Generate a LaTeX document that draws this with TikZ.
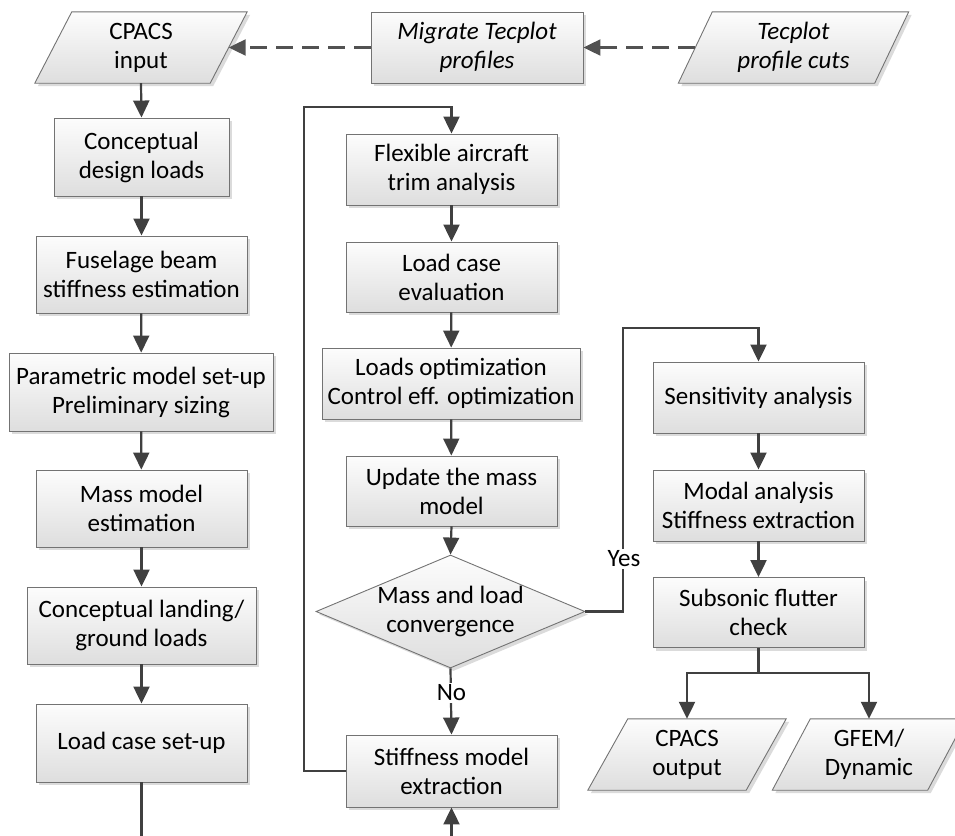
\documentclass[tikz,border=0pt]{standalone}
\usepackage{fontspec}
\setmainfont{Carlito}
\usetikzlibrary{arrows.meta,shadows,shapes.geometric}
\begin{document}
\begin{tikzpicture}[x=1pt,y=-1pt,
  txt/.style={align=center,inner sep=0pt,font=\fontsize{25}{29}\selectfont},
  shade/.style={draw=black!55,line width=0.9pt,top color=black!1,bottom color=black!13,
    drop shadow={shadow xshift=3pt,shadow yshift=-3pt,fill=black!14,opacity=1}},
  box/.style={shade,txt,rectangle},
  ghost/.style={draw=none,inner sep=0pt,rectangle},
  arr/.style={draw=black!75,line width=2.2pt,-{Triangle[length=17pt,width=16pt]}},
  ln/.style={draw=black!75,line width=2.2pt},
  dsh/.style={draw=black!68,line width=2.2pt,dash pattern=on 17pt off 9pt,-{Triangle[length=17pt,width=16pt]}},
  lbl/.style={txt,fill=white,inner sep=2pt}
]
\useasboundingbox (0,0) rectangle (955,835);

% parallelogram helper: ghost node, polygon, text
\newcommand\pgram[7]{%
  \node[ghost,minimum width=#4pt,minimum height=#5pt] (#1) at (#2,#3) {};
  \path[shade] ([xshift=#6pt]#1.north west) -- ([xshift=#6pt]#1.north east)
     -- ([xshift=-#6pt]#1.south east) -- ([xshift=-#6pt]#1.south west) -- cycle;
  \node[txt] (#1t) at (#1) {#7};
}

\pgram{cpin}{141}{47.5}{175}{71}{18.5}{CPACS\\input}
\node[box,minimum width=212pt,minimum height=71pt] (mig) at (477,47.5) {\itshape Migrate Tecplot\\\itshape profiles};
\pgram{tec}{793.5}{47.5}{196}{71}{17}{\itshape Tecplot\\\itshape profile cuts}

% left column
\node[box,minimum width=175pt,minimum height=78pt] (cdl) at (141.5,157) {Conceptual\\design loads};
\node[box,minimum width=211pt,minimum height=77pt] (fbs) at (141.5,274.5) {Fuselage beam\\stiffness estimation};
\node[box,minimum width=264pt,minimum height=78pt] (pms) at (141,392) {Parametric model set-up\\Preliminary sizing};
\node[box,minimum width=211pt,minimum height=77pt] (mme) at (141.5,508.5) {Mass model\\estimation};
\node[box,minimum width=229pt,minimum height=77pt] (cll) at (141.5,625.5) {Conceptual landing/\\ground loads};
\node[box,minimum width=211pt,minimum height=78pt] (lcs) at (141.5,743) {Load case set-up};

% middle column
\node[box,minimum width=211pt,minimum height=71pt] (fta) at (451.5,169.5) {Flexible aircraft\\trim analysis};
\node[box,minimum width=211pt,minimum height=70pt] (lce) at (451.5,277) {Load case\\evaluation};
\node[box,minimum width=258pt,minimum height=71pt] (lo) at (451,383.5) {Loads optimization\\Control eff. optimization};
\node[box,minimum width=211pt,minimum height=70pt] (upd) at (451.5,491) {Update the mass\\model};
\node[shade,diamond,inner sep=0pt,minimum width=269pt,minimum height=113pt] (dia) at (450.5,611.5) {};
\node[txt] (diat) at (dia) {Mass and load\\convergence};
\node[box,minimum width=211pt,minimum height=72pt] (sme) at (451.5,771) {Stiffness model\\extraction};

% right column
\node[box,minimum width=211pt,minimum height=71pt] (sa) at (758.5,397.5) {Sensitivity analysis};
\node[box,minimum width=211pt,minimum height=71pt] (ma) at (758.5,505.5) {Modal analysis\\Stiffness extraction};
\node[box,minimum width=211pt,minimum height=70pt] (sfc) at (758.5,612.5) {Subsonic flutter\\check};
\pgram{cpo}{687}{754.5}{158}{71}{20}{CPACS\\output}
\pgram{gfem}{869}{754.5}{155}{71}{19}{GFEM/\\Dynamic}

% coordinates
\coordinate (loopL) at (304,107);
\coordinate (loopR) at (623,328);
\coordinate (split) at (758.5,673);
\coordinate (bot) at (141.5,860);

% connectors
\draw[dsh] (mig.west) -- (cpin.east);
\draw[dsh] (tec.west) -- (mig.east);
\draw[arr] (cpin.south) -- (cdl.north);
\draw[arr] (cdl) -- (fbs);
\draw[arr] (fbs) -- (pms);
\draw[arr] (pms) -- (mme);
\draw[arr] (mme) -- (cll);
\draw[arr] (cll) -- (lcs);
\draw[arr] (lcs.south) -- (bot) -| (sme.south);
\draw[arr] (fta) -- (lce);
\draw[arr] (lce) -- (lo);
\draw[arr] (lo) -- (upd);
\draw[arr] (upd.south) -- (dia.north);
\draw[arr] (sme.west) -| (loopL) -| (fta.north);
\draw[arr] (dia.south) -- (sme.north);
\node[lbl] (no) at (451.5,693) {No};
\draw[arr] (dia.east) -| (loopR) -| (sa.north);
\node[lbl] (yes) at (624,559) {Yes};
\draw[arr] (sa) -- (ma);
\draw[arr] (ma) -- (sfc);
\draw[ln] (sfc.south) -- (split);
\draw[arr] (split) -| (cpo.north);
\draw[arr] (split) -| (gfem.north);
\end{tikzpicture}
\end{document}
